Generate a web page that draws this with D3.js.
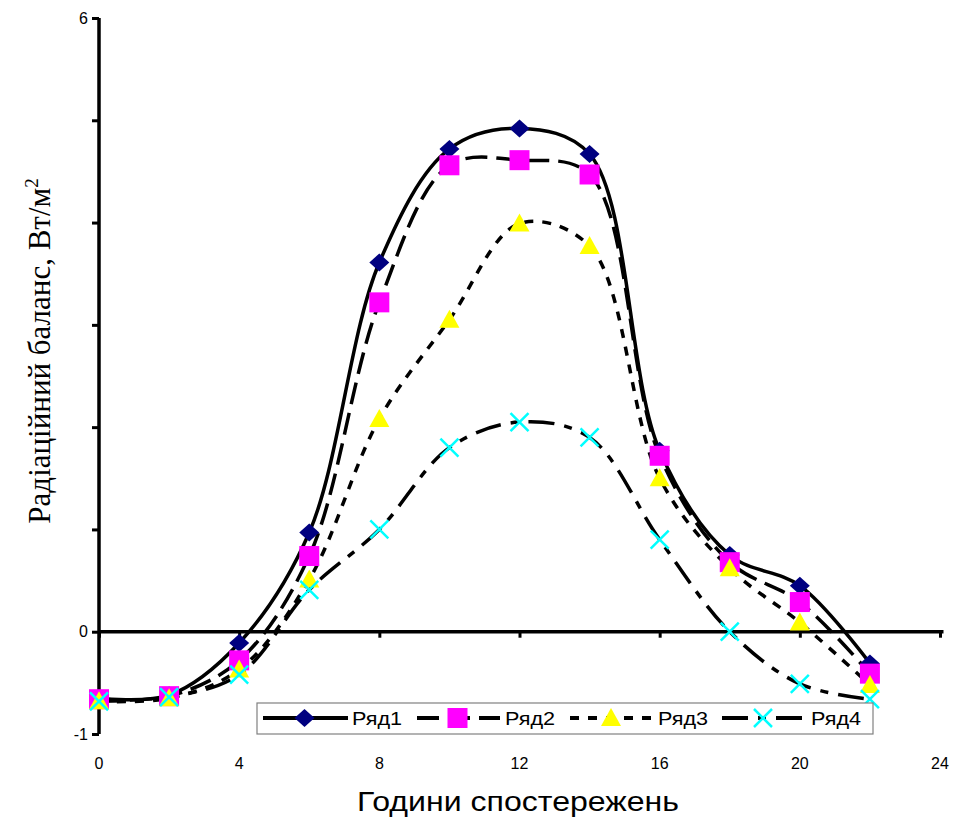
<!DOCTYPE html>
<html><head><meta charset="utf-8">
<script src="https://cdn.jsdelivr.net/npm/d3@7/dist/d3.min.js"></script>
<style>body{margin:0;background:#fff;} svg{display:block;}</style>
</head><body>
<svg id="c" width="953" height="818"></svg>
<script>
const hours = [0, 2, 4, 6, 8, 10, 12, 14, 16, 18, 20, 22];
const seriesNames = ["Ряд1", "Ряд2", "Ряд3", "Ряд4"];
const ryad1 = [-0.65, -0.62, -0.11, 0.97, 3.61, 4.72, 4.92, 4.67, 1.77, 0.75, 0.45, -0.31];
const ryad2 = [-0.66, -0.63, -0.28, 0.74, 3.22, 4.56, 4.61, 4.47, 1.72, 0.68, 0.29, -0.41];
const ryad3 = [-0.68, -0.65, -0.37, 0.51, 2.08, 3.05, 3.99, 3.77, 1.50, 0.62, 0.09, -0.52];
const ryad4 = [-0.68, -0.64, -0.42, 0.41, 1.00, 1.80, 2.05, 1.90, 0.90, 0.00, -0.51, -0.66];
const xTicks = [0, 4, 8, 12, 16, 20, 24];
const yTicks = [-1, 0, 1, 2, 3, 4, 5, 6];
const yTickLabels = {"-1": "-1", "0": "0", "6": "6"};
const xTitle = "Години спостережень";
const yTitle = "Радіаційний баланс, Вт/м";

const svg = d3.select("#c");
const x = d3.scaleLinear().domain([0, 24]).range([99, 940]);
const y = d3.scaleLinear().domain([-1, 6]).range([734, 18]);

const styles = [
  {dash: null, marker: "diamond", fill: "#000080", stroke: null},
  {dash: "22,9", marker: "square", fill: "#ff00ff", stroke: null},
  {dash: "9,9", marker: "triangle", fill: "#ffff00", stroke: null},
  {dash: "26,10,8,10", marker: "x", fill: "none", stroke: "#00ffff"}
];
const data = [ryad1, ryad2, ryad3, ryad4];
const fontSans = "Liberation Sans, Arial, sans-serif";

// Axes
const yAxis = d3.axisLeft(y).tickValues(yTicks).tickSize(7).tickFormat(d => yTickLabels[String(d)] || "");
const gy = svg.append("g").attr("transform", `translate(${x(0)},0)`).call(yAxis);
gy.select(".domain").attr("stroke", "#000").attr("stroke-width", 3.5).attr("d", `M0,${y(-1)}V${y(6)}`);
gy.selectAll(".tick line").attr("stroke", "#000").attr("stroke-width", 3);
gy.selectAll(".tick text").attr("font-family", fontSans).attr("font-size", 16).attr("fill", "#000").attr("x", -11);

const xAxis = d3.axisBottom(x).tickValues(xTicks).tickSize(6).tickFormat("");
const gx = svg.append("g").attr("transform", `translate(0,${y(0)})`).call(xAxis);
gx.select(".domain").attr("stroke", "#000").attr("stroke-width", 3.5).attr("d", `M${x(0)},0H${x(24.1)}`);
gx.selectAll(".tick line").attr("stroke", "#000").attr("stroke-width", 3);

// X tick labels at bottom
svg.append("g").selectAll("text").data(xTicks).join("text")
  .attr("x", d => x(d)).attr("y", 769).attr("text-anchor", "middle")
  .attr("font-family", fontSans).attr("font-size", 16).text(d => d);

// Lines
const line = d3.line().x((d, i) => x(hours[i])).y(d => y(d)).curve(d3.curveCatmullRom.alpha(0.5));
data.forEach((s, k) => {
  svg.append("path").attr("d", line(s)).attr("fill", "none").attr("stroke", "#000")
    .attr("stroke-width", 3.5).attr("stroke-dasharray", styles[k].dash);
});

function marker(g, type, cx, cy, st) {
  const s = 10;
  if (type === "diamond") {
    g.append("path").attr("d", `M${cx},${cy - 9}L${cx + 10},${cy}L${cx},${cy + 9}L${cx - 10},${cy}Z`).attr("fill", st.fill);
  } else if (type === "square") {
    g.append("rect").attr("x", cx - s).attr("y", cy - s).attr("width", 2 * s).attr("height", 2 * s).attr("fill", st.fill);
  } else if (type === "triangle") {
    g.append("path").attr("d", `M${cx},${cy - 10}L${cx + 10},${cy + 8}L${cx - 10},${cy + 8}Z`).attr("fill", st.fill);
  } else {
    g.append("path").attr("d", `M${cx - 9},${cy - 9}L${cx + 9},${cy + 9}M${cx - 9},${cy + 9}L${cx + 9},${cy - 9}`)
      .attr("stroke", st.stroke).attr("stroke-width", 2.5).attr("fill", "none");
  }
}
data.forEach((s, k) => {
  const g = svg.append("g");
  s.forEach((v, i) => marker(g, styles[k].marker, x(hours[i]), y(v), styles[k]));
});

// Legend
const lg = svg.append("g");
lg.append("rect").attr("x", 257).attr("y", 703).attr("width", 616).attr("height", 31)
  .attr("fill", "#fff").attr("stroke", "#808080").attr("stroke-width", 1.2);
const legendItems = [
  {x0: 263, x1: 348, tx: 352},
  {x0: 417, x1: 500, tx: 505},
  {x0: 570, x1: 654, tx: 658},
  {x0: 722, x1: 806, tx: 811}
];
legendItems.forEach((it, k) => {
  const cy = 718;
  lg.append("line").attr("x1", it.x0).attr("x2", it.x1).attr("y1", cy).attr("y2", cy)
    .attr("stroke", "#000").attr("stroke-width", 4).attr("stroke-dasharray", styles[k].dash);
  marker(lg, styles[k].marker, (it.x0 + it.x1) / 2 - 1, cy, styles[k]);
  lg.append("text").attr("x", it.tx).attr("y", cy + 7).attr("font-family", fontSans)
    .attr("font-size", 19).attr("textLength", 50).attr("lengthAdjust", "spacingAndGlyphs").text(seriesNames[k]);
});

// Titles
svg.append("text").attr("x", 518).attr("y", 811).attr("text-anchor", "middle")
  .attr("font-family", fontSans).attr("font-size", 27).attr("textLength", 322)
  .attr("lengthAdjust", "spacingAndGlyphs").text(xTitle);
const yt = svg.append("text").attr("transform", "translate(50,351) rotate(-90)").attr("text-anchor", "middle")
  .attr("font-family", "Liberation Serif, Times New Roman, serif").attr("font-size", 31);
yt.append("tspan").text(yTitle);
yt.append("tspan").attr("dy", -12).attr("font-size", 19).text("2");
</script>
</body></html>
